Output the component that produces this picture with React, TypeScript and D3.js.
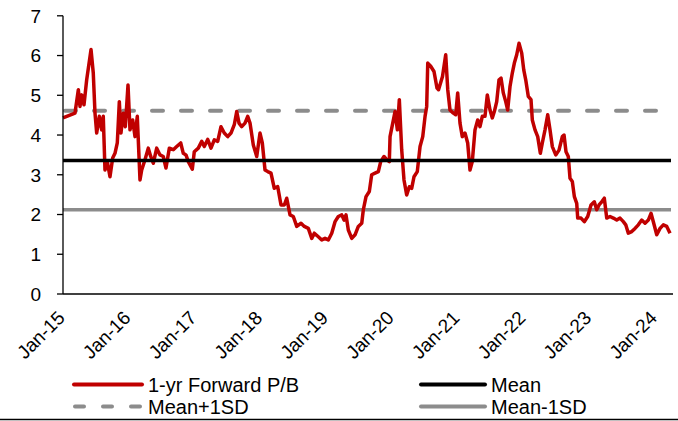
import * as d3 from "d3";

// decimal years (weekly-ish samples)
const dates = [
  2015.0, 2015.182, 2015.233, 2015.258, 2015.284, 2015.319, 2015.36, 2015.426, 2015.46, 2015.486,
  2015.512, 2015.552, 2015.588, 2015.612, 2015.638, 2015.673, 2015.714, 2015.755, 2015.79, 2015.825,
  2015.856, 2015.881, 2015.916, 2015.947, 2015.988, 2016.018, 2016.059, 2016.094, 2016.129, 2016.17,
  2016.196, 2016.246, 2016.296, 2016.333, 2016.372, 2016.424, 2016.474, 2016.524, 2016.565, 2016.616,
  2016.676, 2016.728, 2016.789, 2016.828, 2016.869, 2016.904, 2016.965, 2016.995, 2017.056, 2017.108,
  2017.147, 2017.199, 2017.249, 2017.299, 2017.351, 2017.401, 2017.451, 2017.503, 2017.553, 2017.603,
  2017.64, 2017.675, 2017.716, 2017.766, 2017.807, 2017.842, 2017.892, 2017.944, 2017.994, 2018.029,
  2018.07, 2018.111, 2018.161, 2018.211, 2018.263, 2018.313, 2018.363, 2018.4, 2018.45, 2018.5,
  2018.552, 2018.617, 2018.667, 2018.728, 2018.78, 2018.819, 2018.88, 2018.932, 2018.982, 2019.032,
  2019.084, 2019.134, 2019.184, 2019.236, 2019.271, 2019.301, 2019.336, 2019.388, 2019.438, 2019.488,
  2019.54, 2019.564, 2019.605, 2019.655, 2019.691, 2019.742, 2019.792, 2019.828, 2019.878, 2019.919,
  2019.959, 2019.97, 2020.011, 2020.046, 2020.081, 2020.111, 2020.147, 2020.182, 2020.223, 2020.263,
  2020.299, 2020.334, 2020.384, 2020.426, 2020.467, 2020.502, 2020.527, 2020.543, 2020.588, 2020.638,
  2020.684, 2020.707, 2020.767, 2020.816, 2020.847, 2020.881, 2020.932, 2020.968, 2020.998, 2021.033,
  2021.068, 2021.109, 2021.15, 2021.185, 2021.22, 2021.261, 2021.302, 2021.337, 2021.372, 2021.413,
  2021.448, 2021.489, 2021.524, 2021.555, 2021.591, 2021.626, 2021.657, 2021.691, 2021.728, 2021.758,
  2021.793, 2021.828, 2021.859, 2021.895, 2021.93, 2021.971, 2022.002, 2022.032, 2022.071, 2022.112,
  2022.132, 2022.173, 2022.214, 2022.254, 2022.284, 2022.325, 2022.366, 2022.401, 2022.436, 2022.488,
  2022.538, 2022.588, 2022.614, 2022.644, 2022.679, 2022.705, 2022.74, 2022.771, 2022.807, 2022.822,
  2022.872, 2022.922, 2022.974, 2023.024, 2023.074, 2023.111, 2023.146, 2023.187, 2023.226, 2023.263,
  2023.313, 2023.363, 2023.415, 2023.465, 2023.515, 2023.552, 2023.591, 2023.643, 2023.693, 2023.743,
  2023.795, 2023.845, 2023.895, 2023.936, 2023.971, 2024.023, 2024.073, 2024.123, 2024.175, 2024.225,
];

const pb = [
  4.43, 4.55, 5.14, 4.72, 5.01, 4.76, 5.39, 6.15, 5.56, 4.56,
  4.05, 4.47, 4.13, 4.47, 3.12, 3.33, 2.95, 3.42, 3.54, 3.8,
  4.84, 4.05, 4.55, 4.21, 5.26, 4.13, 4.38, 3.96, 4.47, 2.87,
  3.12, 3.38, 3.67, 3.46, 3.29, 3.67, 3.5, 3.46, 3.17, 3.67,
  3.63, 3.71, 3.8, 3.54, 3.5, 3.33, 3.14, 3.58, 3.67, 3.84,
  3.71, 3.89, 3.67, 3.88, 3.84, 4.21, 4.05, 3.96, 4.05, 4.26,
  4.59, 4.3, 4.21, 4.3, 4.47, 4.3, 3.75, 3.46, 4.05, 3.8,
  3.12, 3.08, 3.04, 2.66, 2.7, 2.24, 2.24, 2.41, 1.99, 1.95,
  1.7, 1.78, 1.7, 1.65, 1.4, 1.53, 1.44, 1.36, 1.4, 1.36,
  1.53, 1.82, 1.95, 1.99, 1.86, 1.99, 1.61, 1.4, 1.49, 1.7,
  1.78, 2.12, 2.45, 2.58, 3.0, 3.04, 3.08, 3.33, 3.46, 3.38,
  3.33, 3.96, 4.3, 4.59, 4.13, 4.89, 3.63, 2.87, 2.49, 2.7,
  2.66, 2.95, 3.08, 3.71, 3.96, 4.47, 4.72, 5.81, 5.73, 5.6,
  5.18, 5.14, 5.47, 6.02, 5.14, 4.63, 4.55, 4.51, 5.06, 4.3,
  3.96, 4.05, 3.8, 3.12, 3.33, 4.13, 4.38, 4.21, 4.47, 4.47,
  5.01, 4.63, 4.43, 4.59, 4.84, 5.39, 5.43, 5.06, 4.84, 4.63,
  5.22, 5.56, 5.81, 6.02, 6.31, 6.06, 5.64, 5.39, 4.97, 4.89,
  4.38, 4.13, 3.96, 3.54, 3.8, 4.13, 4.51, 4.13, 3.71, 3.5,
  3.62, 3.96, 4.0, 3.58, 3.46, 2.91, 2.83, 2.45, 2.28, 1.91,
  1.91, 1.82, 1.95, 2.24, 2.32, 2.12, 2.24, 2.32, 2.41, 1.91,
  1.95, 1.91, 1.86, 1.91, 1.82, 1.74, 1.53, 1.57, 1.65, 1.74,
  1.86, 1.78, 1.86, 2.03, 1.82, 1.49, 1.65, 1.74, 1.7, 1.53,
];

const meanPB = 3.36;
const meanPlus1SD = 4.61;
const meanMinus1SD = 2.12;

const yTicks = [0, 1, 2, 3, 4, 5, 6, 7];
const xTickYears = [2015, 2016, 2017, 2018, 2019, 2020, 2021, 2022, 2023, 2024];
const xTickLabels = ["Jan-15", "Jan-16", "Jan-17", "Jan-18", "Jan-19", "Jan-20", "Jan-21", "Jan-22", "Jan-23", "Jan-24"];
const legendLabels = ["1-yr Forward P/B", "Mean", "Mean+1SD", "Mean-1SD"];

const W = 678;
const H = 421;
const RED = "#c00000";
const GREY = "#8c8c8c";
const FONT = "Liberation Sans, Arial, sans-serif";
const AXIS_FS = 19;
const LEGEND_FS = 20;

export default function App() {
  const x = d3.scaleLinear().domain([2015, 2024.27]).range([63, 673]);
  const y = d3.scaleLinear().domain([0, 7]).range([294, 15.8]);

  const line = d3
    .line<number>()
    .x((_, i) => x(dates[i]))
    .y((d) => y(d));

  const x0 = x.range()[0];
  const x1 = x.range()[1];

  const legend = [
    { x0: 74, x1: 142, tx: 148, ty: 384.5, stroke: RED, dash: undefined },
    { x0: 421, x1: 485, tx: 491, ty: 384.5, stroke: "#000", dash: undefined },
    { x0: 75, x1: 142, tx: 148, ty: 406.5, stroke: GREY, dash: "9,19" },
    { x0: 421, x1: 485, tx: 491, ty: 406.5, stroke: GREY, dash: undefined },
  ];

  return (
    <svg
      width={W}
      height={H}
      style={{ position: "absolute", left: 0, top: 0, background: "#fff" }}
      fontFamily={FONT}
    >
      {/* reference lines */}
      <line x1={x0} x2={x1 - 2} y1={y(meanMinus1SD)} y2={y(meanMinus1SD)} stroke={GREY} strokeWidth={3.5} />
      <line
        x1={x0 + 2}
        x2={x1 - 2}
        y1={y(meanPlus1SD)}
        y2={y(meanPlus1SD)}
        stroke={GREY}
        strokeWidth={4}
        strokeDasharray="11,18"
        strokeLinecap="round"
      />
      <path d={line(pb) ?? ""} fill="none" stroke={RED} strokeWidth={3.5} strokeLinejoin="round" />
      <line x1={x0} x2={x1 - 2} y1={y(meanPB)} y2={y(meanPB)} stroke="#000" strokeWidth={3.5} />

      {/* y axis */}
      <line x1={x0} x2={x0} y1={y(7)} y2={y(0)} stroke="#000" strokeWidth={1.3} />
      {yTicks.map((t) => (
        <g key={t}>
          <line x1={x0 - 6} x2={x0} y1={y(t)} y2={y(t)} stroke="#000" strokeWidth={1.3} />
          <text x={41} y={y(t)} dy="0.36em" textAnchor="end" fontSize={AXIS_FS} fill="#000">
            {t}
          </text>
        </g>
      ))}

      {/* x axis */}
      <line x1={x0} x2={x1} y1={y(0)} y2={y(0)} stroke="#000" strokeWidth={1.3} />
      {xTickYears.map((yr, i) => (
        <text
          key={yr}
          transform={`translate(${x(yr) + 3},${y(0) + 25}) rotate(-45)`}
          textAnchor="end"
          fontSize={AXIS_FS}
          fill="#000"
        >
          {xTickLabels[i]}
        </text>
      ))}

      {/* legend */}
      {legend.map((l, i) => (
        <g key={i}>
          <line
            x1={l.x0}
            x2={l.x1}
            y1={l.ty}
            y2={l.ty}
            stroke={l.stroke}
            strokeWidth={4}
            strokeDasharray={l.dash}
            strokeLinecap="round"
          />
          <text x={l.tx} y={l.ty} dy="0.36em" fontSize={LEGEND_FS} fill="#000">
            {legendLabels[i]}
          </text>
        </g>
      ))}

      <line x1={0} x2={W} y1={419.5} y2={419.5} stroke="#000" strokeWidth={1.5} />
    </svg>
  );
}
